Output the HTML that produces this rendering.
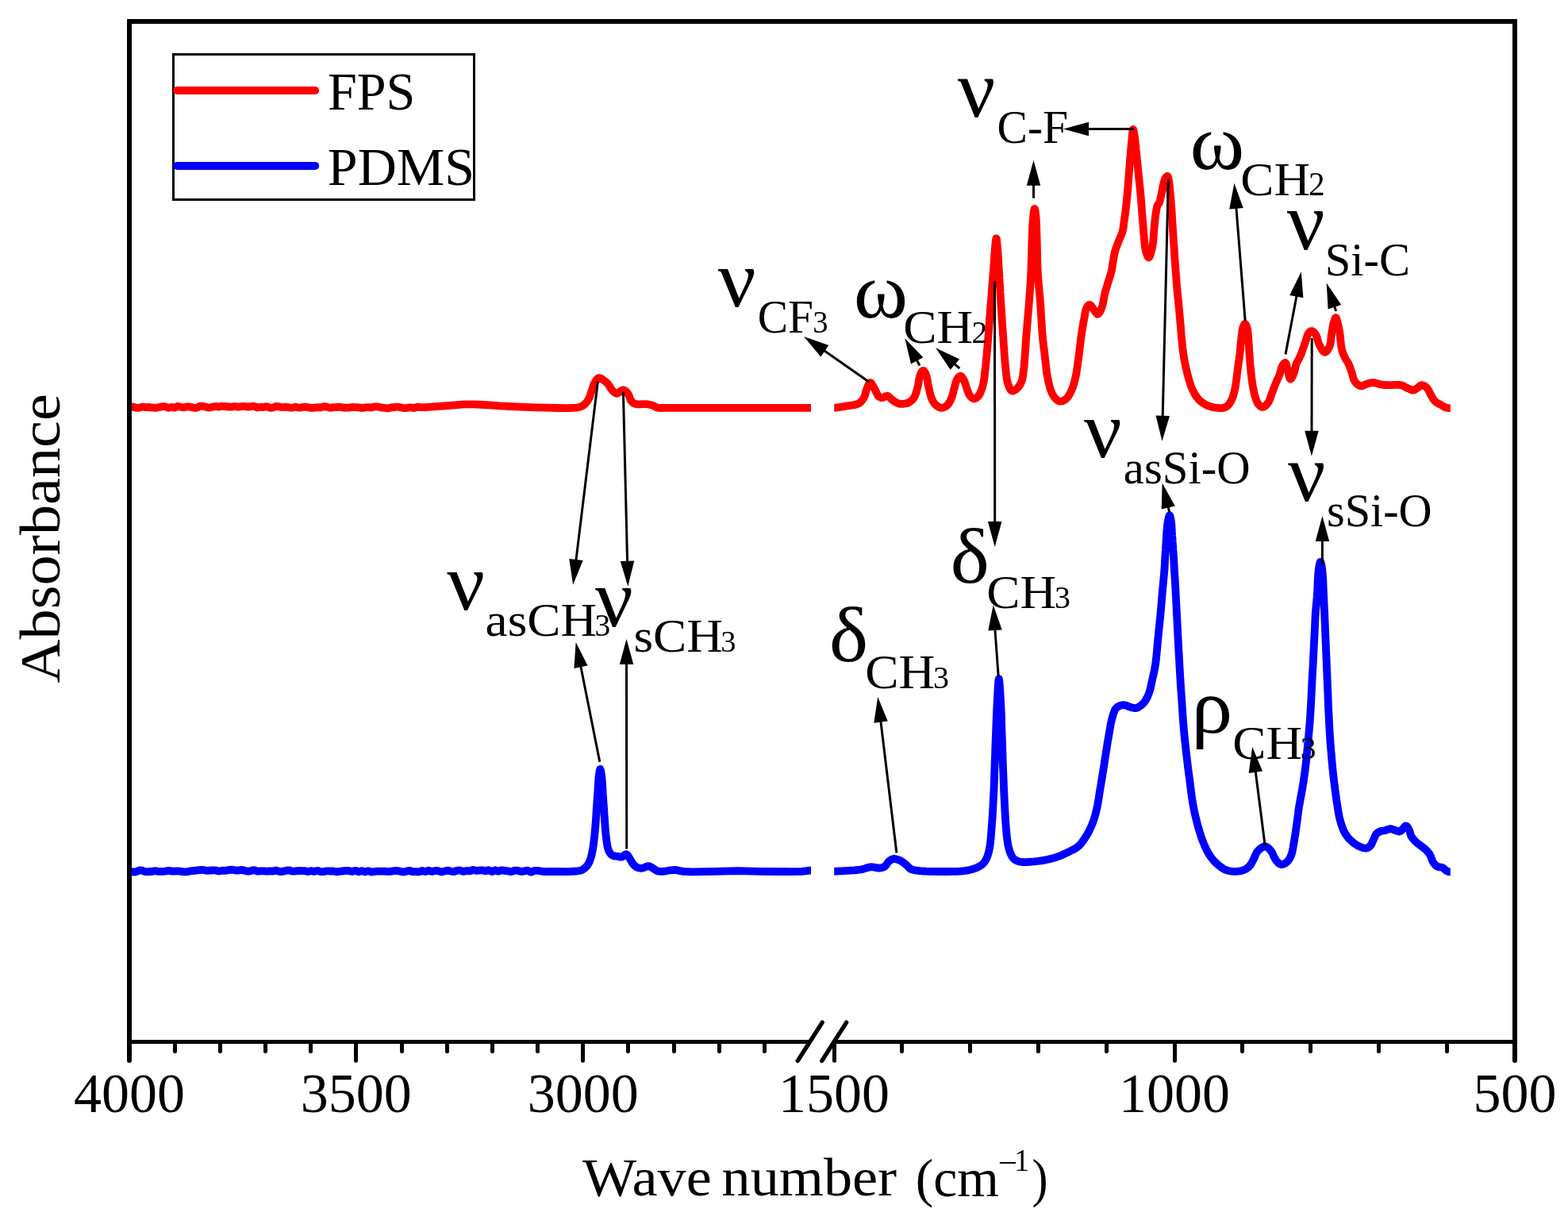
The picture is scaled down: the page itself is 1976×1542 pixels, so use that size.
<!DOCTYPE html>
<html lang="en"><head><meta charset="utf-8"><title>FTIR spectra of FPS and PDMS</title>
<style>html,body{margin:0;padding:0;background:#fff}body{width:1976px;height:1542px;overflow:hidden}svg{display:block}text{font-family:"Liberation Serif", "DejaVu Serif", serif;fill:#000}</style></head><body>
<svg width="1976" height="1542" viewBox="0 0 1976 1542">
<rect width="1976" height="1542" fill="#fff"/>
<defs><clipPath id="cl"><rect x="160" y="0" width="862" height="1542"/></clipPath><clipPath id="cr"><rect x="1051.2" y="0" width="776.6" height="1542"/></clipPath></defs>
<g fill="none" stroke-width="9.8" stroke-linejoin="round" stroke-linecap="butt">
<path clip-path="url(#cl)" stroke="#f00" d="M156.1,514.2 L158.5,513.8 L160.8,513.4 L163.0,513.0 L164.5,512.7 L165.8,512.4 L167.1,512.3 L168.5,512.7 L169.8,513.3 L171.2,513.7 L172.6,513.8 L174.0,513.8 L175.3,513.6 L176.7,513.3 L178.1,512.9 L179.4,512.6 L180.8,512.7 L182.2,512.9 L183.6,513.1 L184.9,513.1 L186.3,513.0 L187.7,513.0 L189.0,513.1 L190.4,513.3 L191.8,513.5 L193.1,513.6 L194.5,513.7 L195.9,513.8 L197.3,513.6 L198.6,513.4 L200.0,513.2 L201.3,512.9 L202.7,512.6 L204.0,512.3 L205.3,512.2 L206.7,512.1 L208.0,512.2 L209.3,512.7 L210.7,513.3 L212.0,513.8 L213.3,513.6 L214.7,513.2 L216.0,512.9 L217.3,513.1 L218.7,513.4 L220.0,513.5 L221.3,513.1 L222.7,512.4 L224.0,512.0 L225.3,512.1 L226.7,512.5 L228.0,512.8 L229.3,513.1 L230.7,513.3 L232.0,513.3 L233.3,513.0 L234.7,512.6 L236.0,512.3 L237.3,512.3 L238.7,512.5 L240.0,512.8 L241.3,513.1 L242.7,513.4 L244.0,513.7 L245.3,513.8 L246.7,513.8 L248.0,513.6 L249.3,513.1 L250.7,512.3 L252.0,511.8 L253.3,511.7 L254.7,511.7 L256.0,511.8 L257.3,512.1 L258.7,512.5 L260.0,512.8 L261.3,513.2 L262.7,513.5 L264.0,513.6 L265.3,513.3 L266.7,512.9 L268.0,512.5 L269.3,512.3 L270.7,512.2 L272.0,512.1 L273.3,512.2 L274.7,512.5 L276.0,512.5 L277.3,512.3 L278.7,511.9 L280.0,511.7 L281.3,511.8 L282.7,511.9 L284.0,512.1 L285.3,512.2 L286.7,512.4 L288.0,512.5 L289.3,512.6 L290.7,512.6 L292.0,512.6 L293.3,512.4 L294.7,512.2 L296.0,512.1 L297.3,512.2 L298.7,512.5 L300.0,512.6 L301.3,512.5 L302.7,512.3 L304.0,512.1 L305.3,512.0 L306.7,512.0 L308.0,512.1 L309.3,512.2 L310.7,512.4 L312.0,512.6 L313.3,512.5 L314.7,512.4 L316.0,512.2 L317.3,512.0 L318.7,511.7 L320.0,511.7 L321.3,512.2 L322.7,512.9 L324.0,513.4 L325.3,513.3 L326.7,513.0 L328.0,512.8 L329.3,512.9 L330.7,513.0 L332.0,513.0 L333.3,512.7 L334.7,512.3 L336.0,512.1 L337.3,512.5 L338.7,513.2 L340.0,513.7 L341.3,513.8 L342.7,513.7 L344.0,513.5 L345.3,513.0 L346.7,512.4 L348.0,512.0 L349.3,512.0 L350.7,512.2 L352.0,512.4 L353.3,512.7 L354.7,513.0 L356.0,513.2 L357.3,513.1 L358.7,512.9 L360.0,512.8 L361.3,512.9 L362.7,513.1 L364.0,513.2 L365.3,513.5 L366.7,513.7 L368.0,513.7 L369.3,513.4 L370.7,513.0 L372.0,512.7 L373.3,512.9 L374.7,513.3 L376.0,513.6 L377.3,513.6 L378.7,513.4 L380.0,513.3 L381.3,513.0 L382.7,512.7 L384.0,512.6 L385.3,512.7 L386.7,512.9 L388.0,513.2 L389.3,513.4 L390.7,513.6 L392.0,513.8 L393.3,513.8 L394.7,513.8 L396.0,513.7 L397.3,513.5 L398.7,513.3 L400.0,513.1 L401.3,513.1 L402.7,513.3 L404.0,513.3 L405.3,512.9 L406.7,512.5 L408.0,512.2 L409.3,512.2 L410.7,512.4 L412.0,512.6 L413.3,513.0 L414.7,513.5 L416.0,513.8 L417.3,513.7 L418.7,513.4 L420.0,513.2 L421.3,513.1 L422.7,513.1 L424.0,513.0 L425.3,512.9 L426.7,512.6 L428.0,512.6 L429.3,512.8 L430.7,513.1 L432.0,513.3 L433.3,513.5 L434.7,513.6 L436.0,513.7 L437.3,513.7 L438.7,513.7 L440.0,513.6 L441.3,513.4 L442.7,513.2 L444.0,513.0 L445.3,513.0 L446.7,513.1 L448.0,513.2 L449.3,513.2 L450.7,513.2 L452.0,513.3 L453.3,513.5 L454.7,513.8 L456.0,513.9 L457.3,513.8 L458.7,513.6 L460.0,513.4 L461.3,513.3 L462.7,513.2 L464.0,513.1 L465.3,513.2 L466.7,513.3 L468.0,513.3 L469.3,513.1 L470.7,512.7 L472.0,512.4 L473.3,512.3 L474.7,512.4 L476.0,512.5 L477.3,512.7 L478.7,513.1 L480.0,513.4 L481.4,513.6 L482.8,513.7 L484.2,513.8 L485.6,514.0 L486.9,514.2 L488.3,514.3 L489.7,514.2 L491.1,513.8 L492.5,513.5 L493.9,513.4 L495.3,513.2 L496.7,513.1 L498.1,512.9 L499.4,512.7 L500.8,512.7 L502.2,512.8 L503.6,513.0 L505.0,513.3 L506.4,513.6 L507.8,514.0 L509.2,514.2 L510.6,514.2 L511.9,514.0 L513.3,513.8 L514.7,513.6 L516.1,513.4 L517.5,513.3 L518.9,513.5 L520.3,513.8 L521.7,514.0 L523.1,513.6 L524.4,513.0 L525.8,512.7 L527.1,512.7 L528.4,513.0 L530.0,513.2 L535.6,513.1 L542.8,512.7 L550.0,512.2 L556.7,511.7 L563.4,511.1 L570.0,510.6 L576.0,510.1 L581.9,509.7 L588.0,509.4 L595.2,509.4 L602.7,509.7 L610.0,510.0 L616.7,510.4 L623.4,510.9 L630.0,511.4 L636.4,511.7 L642.8,512.0 L650.0,512.3 L662.4,512.8 L676.3,513.3 L690.0,513.6 L703.4,514.0 L716.6,514.2 L726.8,513.6 L730.0,513.0 L732.4,512.1 L734.7,510.9 L737.2,508.9 L739.4,506.4 L741.3,503.7 L742.9,500.4 L744.1,496.8 L745.3,493.2 L746.5,489.6 L747.7,485.9 L749.2,482.6 L750.8,479.9 L752.5,477.4 L754.5,476.1 L756.6,476.4 L758.9,477.8 L761.1,479.3 L762.9,480.7 L764.7,482.2 L766.3,483.9 L768.1,486.5 L769.7,489.3 L771.6,491.8 L773.4,493.6 L775.4,495.1 L777.5,495.8 L780.1,494.6 L782.8,492.3 L785.4,491.2 L787.5,492.0 L789.5,493.7 L791.3,495.8 L792.8,498.7 L793.9,502.1 L795.3,505.0 L796.8,506.6 L798.4,507.9 L800.5,508.9 L804.9,509.4 L810.2,509.2 L815.0,509.2 L817.9,509.6 L820.5,510.2 L822.9,510.9 L824.7,511.8 L826.3,512.8 L828.2,513.6 L831.4,514.0 L835.2,513.9 L840.0,513.8 L856.6,513.8 L878.3,513.8 L900.0,513.8 L920.0,513.8 L939.9,513.8 L960.0,513.8 L985.1,513.8 L1010.3,513.8 L1022.0,513.8 L1022.0,513.8 L1022.0,513.8 L1022.0,513.8"/>
<path clip-path="url(#cr)" stroke="#f00" d="M1044.3,515.0 L1045.6,514.7 L1046.9,514.6 L1048.2,514.4 L1049.6,514.1 L1051.2,513.9 L1053.8,513.5 L1056.8,513.1 L1060.0,512.6 L1063.2,512.1 L1066.3,511.6 L1069.6,511.1 L1073.0,510.7 L1076.4,510.1 L1079.5,509.4 L1082.1,508.3 L1083.8,507.2 L1085.2,505.9 L1086.5,504.4 L1087.6,502.8 L1088.7,501.1 L1089.7,498.9 L1090.5,496.5 L1091.1,493.9 L1091.8,491.4 L1092.6,489.2 L1093.3,487.4 L1094.1,485.5 L1094.9,483.8 L1095.7,482.5 L1096.6,482.0 L1097.6,482.5 L1098.6,483.7 L1099.7,485.5 L1100.8,487.4 L1101.8,489.2 L1102.9,491.2 L1103.9,493.4 L1104.9,495.6 L1105.9,497.6 L1107.1,499.1 L1108.0,499.8 L1108.8,500.3 L1109.8,500.7 L1110.7,501.0 L1111.7,501.1 L1113.0,500.8 L1114.3,500.2 L1115.7,499.4 L1117.0,498.8 L1118.3,498.7 L1119.5,499.2 L1120.7,500.2 L1121.8,501.4 L1123.0,502.6 L1124.2,503.7 L1125.7,504.7 L1127.3,505.8 L1128.9,506.8 L1130.6,507.7 L1132.1,508.3 L1133.2,508.6 L1134.2,508.8 L1135.2,508.9 L1136.3,508.9 L1137.4,508.9 L1138.9,508.8 L1140.5,508.5 L1142.2,508.2 L1143.8,507.7 L1145.3,507.0 L1146.8,506.1 L1148.1,505.1 L1149.5,503.9 L1150.7,502.6 L1151.8,501.1 L1153.0,498.9 L1154.0,496.4 L1154.9,493.6 L1155.6,490.7 L1156.4,487.9 L1157.1,484.7 L1157.7,481.3 L1158.2,477.8 L1158.9,474.7 L1159.7,472.1 L1160.4,470.6 L1161.1,469.2 L1161.9,468.0 L1162.6,467.1 L1163.4,466.8 L1164.1,467.1 L1164.9,468.0 L1165.6,469.2 L1166.4,470.6 L1167.0,472.1 L1167.8,474.7 L1168.5,477.8 L1169.1,481.2 L1169.6,484.6 L1170.3,487.9 L1171.0,490.9 L1171.7,494.0 L1172.4,497.0 L1173.2,499.8 L1174.2,502.4 L1175.1,504.3 L1176.1,506.0 L1177.1,507.6 L1178.2,509.0 L1179.5,510.3 L1180.8,511.4 L1182.2,512.3 L1183.7,513.1 L1185.2,513.7 L1186.7,513.9 L1188.2,513.7 L1189.7,513.2 L1191.2,512.4 L1192.6,511.4 L1193.9,510.3 L1195.2,508.9 L1196.3,507.1 L1197.4,505.2 L1198.3,503.2 L1199.2,501.1 L1200.2,498.4 L1201.0,495.4 L1201.7,492.3 L1202.4,489.3 L1203.2,486.6 L1203.8,484.5 L1204.4,482.5 L1204.9,480.6 L1205.6,478.9 L1206.4,477.4 L1207.1,476.4 L1207.9,475.4 L1208.7,474.5 L1209.6,473.9 L1210.4,473.7 L1211.2,474.0 L1212.0,474.7 L1212.8,475.7 L1213.6,476.8 L1214.3,478.0 L1215.2,479.9 L1216.0,482.1 L1216.8,484.5 L1217.5,486.9 L1218.3,489.2 L1219.0,491.2 L1219.7,493.2 L1220.4,495.1 L1221.2,496.9 L1222.2,498.4 L1223.1,499.5 L1224.2,500.6 L1225.3,501.5 L1226.4,502.1 L1227.5,502.4 L1228.7,502.2 L1229.9,501.6 L1231.1,500.7 L1232.3,499.6 L1233.4,498.4 L1234.7,496.4 L1235.9,493.9 L1236.9,491.2 L1237.9,488.3 L1238.7,485.3 L1239.5,481.6 L1240.2,477.7 L1240.7,473.6 L1241.1,469.5 L1241.6,465.5 L1242.1,461.6 L1242.5,457.8 L1242.8,453.9 L1243.2,449.9 L1243.6,445.8 L1244.0,440.8 L1244.5,435.6 L1244.9,430.3 L1245.4,424.9 L1245.8,419.5 L1246.2,413.7 L1246.7,407.7 L1247.1,401.7 L1247.6,395.8 L1248.0,390.0 L1248.4,384.9 L1248.8,379.9 L1249.2,375.0 L1249.6,370.1 L1250.0,365.0 L1250.4,359.4 L1250.9,353.7 L1251.3,347.9 L1251.8,342.2 L1252.2,336.6 L1252.6,331.4 L1252.9,326.2 L1253.3,321.1 L1253.6,316.3 L1254.0,312.0 L1254.3,309.0 L1254.6,305.9 L1254.9,303.1 L1255.2,301.1 L1255.5,300.3 L1255.8,301.1 L1256.1,303.1 L1256.4,305.9 L1256.7,309.0 L1257.0,312.0 L1257.4,316.3 L1257.7,321.0 L1258.0,326.0 L1258.3,331.1 L1258.6,336.0 L1258.9,340.8 L1259.2,345.6 L1259.4,350.5 L1259.7,355.2 L1260.0,360.0 L1260.3,364.5 L1260.5,369.0 L1260.8,373.4 L1261.1,378.0 L1261.4,382.6 L1261.7,387.9 L1262.1,393.4 L1262.5,399.0 L1262.8,404.5 L1263.2,410.0 L1263.6,415.2 L1263.9,420.5 L1264.3,425.6 L1264.6,430.8 L1265.0,436.0 L1265.4,441.2 L1265.7,446.4 L1266.1,451.5 L1266.5,456.6 L1267.0,461.6 L1267.5,466.3 L1267.9,471.0 L1268.5,475.6 L1269.2,479.8 L1270.2,483.5 L1271.0,485.8 L1271.9,488.1 L1272.9,490.1 L1274.1,491.7 L1275.3,492.5 L1276.5,492.5 L1277.8,492.1 L1279.2,491.2 L1280.6,490.2 L1281.8,489.2 L1283.1,487.9 L1284.2,486.5 L1285.3,484.8 L1286.3,483.1 L1287.1,481.3 L1287.8,479.3 L1288.4,477.4 L1288.8,475.2 L1289.2,472.8 L1289.6,470.0 L1290.5,462.5 L1291.3,453.0 L1292.0,442.5 L1292.7,431.9 L1293.4,422.1 L1294.1,414.0 L1294.8,406.0 L1295.4,398.2 L1296.1,390.4 L1296.7,382.6 L1297.3,374.7 L1297.9,366.9 L1298.4,359.1 L1298.9,351.2 L1299.3,343.2 L1299.6,334.5 L1299.9,325.6 L1300.1,316.7 L1300.3,308.1 L1300.6,300.0 L1300.9,293.8 L1301.1,287.6 L1301.4,281.8 L1301.8,276.5 L1302.2,272.0 L1302.5,269.5 L1302.8,267.1 L1303.1,264.9 L1303.5,263.4 L1303.8,262.8 L1304.1,263.4 L1304.5,264.9 L1304.8,267.1 L1305.1,269.5 L1305.4,272.0 L1305.8,276.5 L1306.0,281.8 L1306.2,287.6 L1306.4,293.8 L1306.6,300.0 L1306.8,308.1 L1307.0,316.7 L1307.2,325.6 L1307.4,334.5 L1307.8,343.2 L1308.3,351.2 L1309.0,359.1 L1309.7,366.9 L1310.5,374.7 L1311.1,382.6 L1311.6,390.6 L1312.1,398.8 L1312.6,406.9 L1313.1,414.7 L1313.7,422.1 L1314.2,427.7 L1314.8,433.0 L1315.4,438.1 L1316.1,443.2 L1316.7,448.4 L1317.3,453.7 L1317.9,459.1 L1318.5,464.5 L1319.1,469.7 L1320.0,474.7 L1320.9,479.0 L1321.8,483.3 L1322.9,487.4 L1324.0,491.2 L1325.3,494.5 L1326.2,496.4 L1327.2,498.2 L1328.3,499.8 L1329.3,501.2 L1330.5,502.4 L1331.5,503.3 L1332.5,504.2 L1333.5,504.9 L1334.6,505.4 L1335.8,505.7 L1337.3,505.6 L1338.9,505.2 L1340.6,504.4 L1342.2,503.5 L1343.7,502.4 L1345.3,500.8 L1346.7,498.8 L1348.0,496.6 L1349.2,494.3 L1350.3,491.8 L1351.6,488.8 L1352.7,485.5 L1353.7,482.1 L1354.6,478.5 L1355.5,474.7 L1356.5,469.8 L1357.3,464.6 L1358.1,459.2 L1358.8,453.8 L1359.5,448.4 L1360.2,443.1 L1360.8,437.7 L1361.5,432.3 L1362.1,427.1 L1362.8,422.1 L1363.4,417.9 L1364.1,413.9 L1364.7,409.9 L1365.4,406.1 L1366.1,402.4 L1366.7,399.2 L1367.2,396.0 L1367.7,392.9 L1368.4,390.1 L1369.3,387.9 L1370.0,386.7 L1370.8,385.6 L1371.6,384.7 L1372.5,384.1 L1373.3,383.9 L1374.2,384.3 L1375.1,385.2 L1376.0,386.5 L1377.0,387.9 L1377.9,389.2 L1378.9,390.7 L1380.0,392.4 L1381.1,394.1 L1382.2,395.3 L1383.2,395.8 L1384.3,395.3 L1385.4,393.9 L1386.5,392.1 L1387.5,390.0 L1388.4,387.9 L1389.4,384.7 L1390.3,381.0 L1390.9,377.0 L1391.6,373.1 L1392.4,369.5 L1393.1,366.7 L1393.9,364.0 L1394.7,361.5 L1395.5,358.9 L1396.3,356.3 L1397.1,353.7 L1397.9,351.3 L1398.7,348.8 L1399.5,346.1 L1400.3,343.2 L1401.3,338.5 L1402.1,333.2 L1403.0,327.6 L1403.9,322.3 L1404.9,317.6 L1405.7,314.7 L1406.6,312.0 L1407.6,309.5 L1408.5,307.0 L1409.5,304.5 L1410.6,301.9 L1411.7,299.2 L1412.8,296.6 L1413.9,294.0 L1414.7,291.3 L1415.3,288.7 L1415.7,286.2 L1416.0,283.7 L1416.3,281.0 L1416.7,278.2 L1417.2,274.5 L1417.8,270.7 L1418.3,266.7 L1418.8,262.6 L1419.3,258.4 L1419.8,253.4 L1420.3,248.2 L1420.8,242.8 L1421.3,237.4 L1421.7,232.1 L1422.1,226.8 L1422.5,221.6 L1422.9,216.3 L1423.3,211.1 L1423.7,205.8 L1424.1,200.4 L1424.6,195.0 L1425.1,189.6 L1425.5,184.4 L1426.0,179.5 L1426.4,175.4 L1426.7,171.0 L1427.1,166.9 L1427.5,164.0 L1427.9,162.8 L1428.3,163.4 L1428.6,165.0 L1429.0,167.2 L1429.4,169.6 L1429.8,172.0 L1430.3,175.5 L1430.8,179.5 L1431.2,183.8 L1431.6,188.2 L1432.1,192.6 L1432.6,197.7 L1433.1,202.9 L1433.7,208.2 L1434.2,213.6 L1434.7,218.9 L1435.2,224.2 L1435.8,229.5 L1436.4,234.7 L1436.9,240.0 L1437.4,245.3 L1437.9,250.6 L1438.3,255.8 L1438.7,261.1 L1439.1,266.3 L1439.5,271.6 L1439.9,277.0 L1440.4,282.4 L1440.8,287.8 L1441.2,293.0 L1441.7,297.9 L1442.0,301.6 L1442.3,305.3 L1442.6,308.7 L1443.1,312.0 L1443.7,315.0 L1444.3,317.4 L1445.1,320.0 L1445.9,322.2 L1446.8,323.9 L1447.6,324.5 L1448.6,323.6 L1449.6,321.2 L1450.6,317.9 L1451.5,314.3 L1452.2,311.0 L1452.8,307.3 L1453.3,303.4 L1453.6,299.4 L1453.9,295.3 L1454.2,291.3 L1454.6,287.3 L1454.9,283.2 L1455.3,279.2 L1455.7,275.3 L1456.2,271.6 L1456.6,268.6 L1457.1,265.6 L1457.6,262.8 L1458.1,260.3 L1458.8,258.4 L1459.2,257.8 L1459.6,257.3 L1460.0,256.9 L1460.4,256.4 L1460.8,255.8 L1461.4,254.2 L1461.9,252.2 L1462.4,249.9 L1462.9,247.6 L1463.4,245.3 L1463.9,242.7 L1464.5,240.0 L1465.0,237.2 L1465.5,234.5 L1466.1,232.1 L1466.6,230.3 L1467.0,228.5 L1467.5,226.9 L1468.1,225.4 L1468.7,224.2 L1469.2,223.5 L1469.7,222.9 L1470.3,222.4 L1470.8,222.0 L1471.3,222.0 L1471.8,222.6 L1472.3,223.8 L1472.6,225.5 L1472.9,227.5 L1473.2,229.5 L1473.8,233.6 L1474.3,238.6 L1474.8,244.1 L1475.3,249.9 L1475.8,255.8 L1476.4,263.2 L1476.9,271.0 L1477.4,279.1 L1477.9,287.3 L1478.4,295.3 L1478.9,303.2 L1479.5,311.2 L1480.0,319.2 L1480.5,327.0 L1481.1,334.7 L1481.6,341.7 L1482.2,348.8 L1482.7,355.7 L1483.2,362.1 L1483.7,367.6 L1484.0,370.4 L1484.2,372.8 L1484.5,375.0 L1484.7,377.3 L1485.0,380.0 L1485.4,384.5 L1485.9,389.6 L1486.4,394.9 L1486.9,400.5 L1487.4,406.3 L1488.1,413.8 L1488.7,421.9 L1489.5,430.2 L1490.3,438.3 L1491.3,445.8 L1492.2,451.5 L1493.2,456.9 L1494.2,462.1 L1495.4,467.2 L1496.6,472.1 L1497.8,476.3 L1499.0,480.5 L1500.2,484.5 L1501.6,488.3 L1503.2,491.8 L1504.6,494.5 L1506.0,497.1 L1507.6,499.4 L1509.3,501.7 L1511.1,503.7 L1513.0,505.5 L1515.0,507.1 L1517.2,508.5 L1519.4,509.8 L1521.6,510.9 L1523.6,511.7 L1525.7,512.4 L1527.9,512.9 L1530.0,513.3 L1532.1,513.6 L1534.3,513.8 L1536.5,514.0 L1538.7,514.1 L1540.8,514.0 L1542.6,513.6 L1543.8,513.2 L1544.9,512.6 L1546.0,512.0 L1546.9,511.2 L1547.9,510.3 L1549.1,508.9 L1550.2,507.2 L1551.3,505.3 L1552.3,503.2 L1553.2,501.1 L1554.2,498.3 L1555.0,495.2 L1555.8,492.0 L1556.5,488.7 L1557.1,485.3 L1557.7,481.5 L1558.3,477.6 L1558.7,473.5 L1559.2,469.5 L1559.7,465.5 L1560.2,461.6 L1560.8,457.6 L1561.4,453.7 L1561.9,449.7 L1562.4,445.8 L1562.8,441.8 L1563.2,437.7 L1563.5,433.7 L1563.9,429.8 L1564.3,426.1 L1564.6,423.2 L1565.0,420.3 L1565.3,417.6 L1565.7,415.1 L1566.3,412.9 L1566.8,411.6 L1567.3,410.3 L1567.8,409.1 L1568.4,408.3 L1568.9,408.0 L1569.5,408.3 L1570.0,409.1 L1570.6,410.2 L1571.1,411.5 L1571.6,412.9 L1572.3,415.9 L1572.7,419.7 L1573.0,423.9 L1573.3,428.3 L1573.6,432.6 L1574.0,437.6 L1574.3,442.9 L1574.7,448.3 L1575.1,453.7 L1575.5,458.9 L1576.0,463.8 L1576.4,468.6 L1577.0,473.4 L1577.5,478.1 L1578.2,482.6 L1578.8,486.6 L1579.5,490.5 L1580.3,494.3 L1581.1,497.9 L1582.1,501.1 L1582.9,503.3 L1583.7,505.4 L1584.6,507.3 L1585.6,508.9 L1586.7,510.3 L1587.5,511.1 L1588.4,511.9 L1589.4,512.5 L1590.3,512.8 L1591.3,512.9 L1592.6,512.5 L1594.0,511.7 L1595.4,510.5 L1596.7,509.1 L1597.9,507.6 L1599.2,505.4 L1600.3,502.9 L1601.3,500.1 L1602.2,497.2 L1603.2,494.5 L1604.3,491.8 L1605.3,489.1 L1606.4,486.4 L1607.4,483.8 L1608.4,481.3 L1609.2,479.4 L1610.1,477.5 L1610.9,475.8 L1611.7,474.0 L1612.4,472.1 L1613.1,470.0 L1613.7,467.7 L1614.3,465.5 L1614.9,463.4 L1615.7,461.6 L1616.4,460.3 L1617.2,459.1 L1618.1,458.0 L1618.9,457.2 L1619.6,457.0 L1620.4,457.8 L1621.1,459.6 L1621.7,462.0 L1622.3,464.5 L1622.9,466.8 L1623.5,469.3 L1624.1,472.1 L1624.8,474.7 L1625.4,476.8 L1626.2,477.6 L1627.1,477.1 L1628.0,475.7 L1629.0,473.7 L1630.0,471.5 L1630.8,469.5 L1631.4,467.5 L1631.9,465.3 L1632.3,463.1 L1632.8,460.9 L1633.4,458.9 L1634.1,457.3 L1634.9,455.7 L1635.7,454.2 L1636.6,452.7 L1637.4,451.1 L1638.2,449.3 L1639.0,447.5 L1639.8,445.7 L1640.5,443.8 L1641.3,441.8 L1642.1,439.5 L1642.9,437.2 L1643.7,434.7 L1644.5,432.3 L1645.3,430.0 L1646.0,427.7 L1646.7,425.4 L1647.4,423.1 L1648.2,421.1 L1649.2,419.5 L1649.9,418.7 L1650.7,418.0 L1651.5,417.4 L1652.4,417.1 L1653.2,417.0 L1654.3,417.4 L1655.4,418.2 L1656.4,419.4 L1657.5,420.7 L1658.4,422.1 L1659.4,424.1 L1660.1,426.5 L1660.7,429.0 L1661.4,431.6 L1662.4,433.9 L1663.6,436.3 L1665.1,438.9 L1666.6,441.3 L1668.1,443.1 L1669.6,443.8 L1670.9,443.4 L1672.1,442.2 L1673.4,440.5 L1674.5,438.6 L1675.5,436.6 L1676.4,433.7 L1677.0,430.3 L1677.4,426.6 L1677.7,422.9 L1678.2,419.5 L1678.7,416.7 L1679.2,413.8 L1679.7,411.1 L1680.2,408.6 L1680.8,406.3 L1681.3,404.7 L1681.8,403.0 L1682.3,401.5 L1682.9,400.5 L1683.4,400.1 L1683.9,400.7 L1684.5,402.1 L1685.0,404.0 L1685.5,406.1 L1686.0,408.0 L1686.5,410.0 L1687.0,412.0 L1687.4,414.2 L1687.9,416.5 L1688.3,418.9 L1688.8,422.8 L1689.2,427.2 L1689.7,431.8 L1690.2,436.2 L1690.9,440.0 L1691.6,442.4 L1692.3,444.6 L1693.1,446.6 L1694.0,448.6 L1694.9,450.5 L1695.8,452.2 L1696.7,453.7 L1697.7,455.2 L1698.6,456.7 L1699.5,458.4 L1700.4,460.4 L1701.2,462.5 L1701.9,464.6 L1702.7,466.8 L1703.4,468.9 L1704.1,471.1 L1704.6,473.3 L1705.2,475.6 L1705.9,477.7 L1706.7,479.5 L1707.5,480.8 L1708.4,482.0 L1709.3,483.0 L1710.3,483.9 L1711.3,484.7 L1712.1,485.2 L1712.8,485.6 L1713.6,486.0 L1714.4,486.2 L1715.3,486.3 L1716.7,486.1 L1718.3,485.5 L1719.9,484.7 L1721.6,484.0 L1723.2,483.4 L1724.8,483.0 L1726.3,482.6 L1727.9,482.3 L1729.4,482.1 L1731.1,482.1 L1733.1,482.4 L1735.2,482.9 L1737.3,483.6 L1739.5,484.3 L1741.6,484.7 L1743.7,484.9 L1745.7,485.0 L1747.8,485.1 L1749.9,485.1 L1752.1,485.1 L1754.7,485.1 L1757.5,484.9 L1760.2,484.8 L1762.9,484.8 L1765.3,485.1 L1767.0,485.6 L1768.6,486.3 L1770.2,487.2 L1771.7,488.0 L1773.2,488.7 L1774.8,489.4 L1776.4,490.2 L1778.1,491.0 L1779.6,491.5 L1781.1,491.6 L1782.2,491.3 L1783.3,490.8 L1784.3,490.1 L1785.3,489.4 L1786.3,488.7 L1787.4,487.9 L1788.4,487.0 L1789.4,486.1 L1790.5,485.4 L1791.6,485.1 L1792.9,485.3 L1794.3,485.8 L1795.7,486.6 L1797.0,487.6 L1798.2,488.7 L1799.4,490.2 L1800.5,492.0 L1801.4,494.0 L1802.4,496.0 L1803.4,497.9 L1804.4,499.6 L1805.4,501.3 L1806.4,502.9 L1807.5,504.5 L1808.7,505.8 L1809.9,506.8 L1811.2,507.6 L1812.6,508.3 L1814.0,509.0 L1815.3,509.7 L1816.6,510.5 L1817.8,511.2 L1819.1,512.0 L1820.3,512.7 L1821.5,513.2 L1822.4,513.5 L1823.2,513.7 L1824.1,513.9 L1825.0,514.0 L1826.0,514.1 L1828.0,514.2 L1830.6,514.3 L1833.2,514.2 L1835.1,514.2 L1836.0,514.2 L1836.0,514.2 L1836.0,514.2 L1836.0,514.2 L1836.0,514.2 L1836.0,514.2"/>
<path clip-path="url(#cl)" stroke="#00f" d="M156.2,1096.0 L158.5,1096.5 L160.9,1097.0 L163.0,1097.5 L164.4,1097.9 L165.7,1098.2 L167.1,1098.4 L168.4,1098.5 L169.8,1098.6 L171.1,1098.4 L172.5,1097.9 L173.9,1097.2 L175.2,1096.6 L176.6,1096.5 L177.9,1096.5 L179.3,1096.7 L180.6,1097.2 L182.0,1097.8 L183.4,1098.2 L184.7,1098.3 L186.1,1098.1 L187.4,1098.0 L188.8,1098.0 L190.1,1098.0 L191.5,1097.9 L192.9,1097.6 L194.2,1097.3 L195.6,1097.2 L196.9,1097.3 L198.3,1097.6 L199.6,1097.8 L201.0,1097.8 L202.4,1097.8 L203.7,1097.8 L205.1,1097.8 L206.4,1097.8 L207.8,1097.7 L209.1,1097.5 L210.5,1097.1 L211.9,1096.9 L213.2,1097.0 L214.6,1097.2 L215.9,1097.5 L217.3,1097.5 L218.6,1097.6 L220.0,1097.6 L221.3,1097.5 L222.7,1097.4 L224.0,1097.3 L225.3,1097.4 L226.7,1097.7 L228.0,1097.9 L229.3,1098.1 L230.7,1098.2 L232.0,1098.3 L233.3,1098.4 L234.7,1098.3 L236.0,1098.2 L237.3,1097.9 L238.7,1097.6 L240.0,1097.3 L241.3,1097.2 L242.7,1097.1 L244.0,1097.0 L245.3,1096.9 L246.7,1096.7 L248.0,1096.6 L249.3,1096.4 L250.7,1096.2 L252.0,1096.0 L253.3,1095.9 L254.7,1095.9 L256.0,1095.9 L257.3,1096.2 L258.7,1096.5 L260.0,1096.8 L261.3,1096.8 L262.7,1096.8 L264.0,1096.7 L265.3,1096.6 L266.7,1096.5 L268.0,1096.4 L269.3,1096.4 L270.7,1096.4 L272.0,1096.5 L273.3,1096.8 L274.7,1097.3 L276.0,1097.5 L277.3,1097.4 L278.7,1097.0 L280.0,1096.8 L281.3,1096.7 L282.7,1096.8 L284.0,1096.8 L285.3,1096.6 L286.7,1096.4 L288.0,1096.1 L289.3,1095.9 L290.7,1095.8 L292.0,1095.7 L293.3,1095.8 L294.7,1096.1 L296.0,1096.3 L297.3,1096.4 L298.7,1096.6 L300.0,1096.6 L301.3,1096.4 L302.7,1096.1 L304.0,1095.9 L305.3,1096.0 L306.7,1096.3 L308.0,1096.7 L309.3,1097.1 L310.7,1097.5 L312.0,1097.7 L313.3,1097.6 L314.7,1097.3 L316.0,1097.1 L317.3,1096.7 L318.7,1096.3 L320.0,1096.1 L321.3,1096.5 L322.7,1097.1 L324.0,1097.5 L325.3,1097.6 L326.7,1097.5 L328.0,1097.4 L329.3,1097.3 L330.7,1097.3 L332.0,1097.3 L333.3,1097.4 L334.7,1097.6 L336.0,1097.7 L337.3,1097.6 L338.7,1097.5 L340.0,1097.4 L341.3,1097.4 L342.7,1097.5 L344.0,1097.5 L345.3,1097.2 L346.7,1096.8 L348.0,1096.6 L349.3,1096.9 L350.7,1097.5 L352.0,1097.9 L353.3,1098.0 L354.7,1098.0 L356.0,1097.9 L357.3,1097.7 L358.7,1097.3 L360.0,1097.0 L361.3,1096.7 L362.7,1096.4 L364.0,1096.3 L365.3,1096.7 L366.7,1097.2 L368.0,1097.6 L369.3,1097.7 L370.7,1097.6 L372.0,1097.5 L373.3,1097.4 L374.7,1097.2 L376.0,1097.0 L377.3,1097.0 L378.7,1097.1 L380.0,1097.2 L381.3,1097.2 L382.7,1097.1 L384.0,1097.1 L385.3,1097.4 L386.7,1097.8 L388.0,1098.0 L389.3,1097.8 L390.7,1097.4 L392.0,1097.2 L393.3,1097.4 L394.7,1097.7 L396.0,1097.9 L397.3,1097.6 L398.7,1097.2 L400.0,1097.0 L401.3,1097.2 L402.7,1097.7 L404.0,1098.1 L405.3,1098.2 L406.7,1098.2 L408.0,1098.1 L409.3,1097.9 L410.7,1097.5 L412.0,1097.3 L413.3,1097.3 L414.7,1097.4 L416.0,1097.5 L417.3,1097.5 L418.7,1097.4 L420.0,1097.4 L421.3,1097.7 L422.7,1098.0 L424.0,1098.3 L425.3,1098.2 L426.7,1098.1 L428.0,1097.9 L429.3,1097.7 L430.7,1097.6 L432.0,1097.4 L433.3,1097.2 L434.7,1097.0 L436.0,1096.9 L437.3,1096.9 L438.7,1097.0 L440.0,1097.1 L441.3,1097.4 L442.7,1097.7 L444.0,1097.9 L445.3,1097.6 L446.7,1097.1 L448.0,1096.8 L449.3,1097.2 L450.7,1097.9 L452.0,1098.3 L453.3,1098.0 L454.7,1097.4 L456.0,1097.1 L457.3,1097.4 L458.7,1098.0 L460.0,1098.4 L461.3,1098.1 L462.7,1097.5 L464.0,1097.2 L465.3,1097.5 L466.7,1098.1 L468.0,1098.5 L469.3,1098.4 L470.7,1098.2 L472.0,1098.0 L473.3,1097.8 L474.7,1097.7 L476.0,1097.6 L477.3,1097.6 L478.7,1097.6 L480.0,1097.6 L481.3,1097.6 L482.7,1097.6 L484.0,1097.6 L485.3,1097.7 L486.7,1097.8 L488.0,1097.9 L489.3,1097.9 L490.7,1097.9 L492.0,1097.8 L493.3,1097.6 L494.7,1097.4 L496.0,1097.2 L497.3,1097.1 L498.7,1097.0 L500.0,1097.0 L501.3,1097.1 L502.7,1097.4 L504.0,1097.6 L505.3,1097.9 L506.7,1098.3 L508.0,1098.5 L509.3,1098.4 L510.7,1098.1 L512.0,1097.8 L513.3,1097.4 L514.7,1096.9 L516.0,1096.8 L517.3,1097.1 L518.7,1097.8 L520.0,1098.2 L521.3,1098.3 L522.7,1098.1 L524.0,1098.1 L525.3,1098.2 L526.7,1098.4 L528.0,1098.4 L529.3,1098.0 L530.7,1097.3 L532.0,1097.0 L533.3,1097.3 L534.7,1097.8 L536.0,1098.1 L537.3,1097.7 L538.7,1097.1 L540.0,1096.7 L541.3,1097.0 L542.7,1097.6 L544.0,1097.9 L545.3,1097.8 L546.7,1097.4 L548.0,1097.1 L549.3,1097.0 L550.7,1097.0 L552.0,1097.1 L553.3,1097.5 L554.7,1098.0 L556.0,1098.4 L557.3,1098.3 L558.7,1097.9 L560.0,1097.6 L561.3,1097.3 L562.7,1096.9 L564.0,1096.7 L565.3,1096.9 L566.7,1097.2 L568.0,1097.5 L569.3,1097.8 L570.7,1098.0 L572.0,1098.1 L573.3,1097.7 L574.7,1097.2 L576.0,1096.8 L577.3,1096.6 L578.7,1096.5 L580.0,1096.6 L581.3,1097.0 L582.7,1097.6 L584.0,1097.9 L585.3,1097.7 L586.7,1097.2 L588.0,1096.9 L589.3,1097.0 L590.7,1097.3 L592.0,1097.4 L593.3,1097.0 L594.7,1096.3 L596.0,1095.9 L597.3,1096.1 L598.7,1096.5 L600.0,1096.8 L601.3,1096.8 L602.7,1096.7 L604.0,1096.6 L605.3,1096.4 L606.7,1096.3 L608.0,1096.3 L609.3,1096.6 L610.7,1097.1 L612.0,1097.3 L613.3,1097.0 L614.7,1096.4 L616.0,1096.2 L617.3,1096.7 L618.7,1097.6 L620.0,1098.0 L621.3,1097.6 L622.7,1096.7 L624.0,1096.2 L625.3,1096.6 L626.7,1097.3 L628.0,1097.7 L629.3,1097.4 L630.7,1096.7 L632.0,1096.3 L633.3,1096.4 L634.7,1096.6 L636.0,1096.9 L637.3,1097.0 L638.7,1097.2 L640.0,1097.4 L641.4,1097.7 L642.8,1098.0 L644.2,1098.1 L645.6,1097.7 L646.9,1097.2 L648.3,1096.8 L649.7,1096.7 L651.1,1096.7 L652.5,1096.9 L653.9,1097.2 L655.3,1097.7 L656.7,1097.9 L658.1,1097.9 L659.4,1097.6 L660.8,1097.4 L662.2,1097.1 L663.6,1096.8 L665.0,1096.7 L666.4,1097.3 L667.8,1098.2 L669.2,1098.7 L670.5,1098.3 L671.9,1097.6 L673.3,1097.0 L674.7,1096.8 L676.1,1096.8 L677.5,1096.8 L678.9,1097.0 L680.3,1097.3 L681.7,1097.5 L683.1,1097.7 L684.4,1098.0 L685.8,1098.1 L687.1,1098.1 L688.3,1098.0 L690.0,1097.9 L700.6,1098.0 L715.2,1098.1 L726.8,1097.5 L729.9,1097.0 L732.4,1096.4 L734.7,1095.3 L737.1,1093.6 L739.4,1091.3 L741.3,1088.7 L743.2,1084.8 L744.7,1080.3 L745.9,1075.5 L747.0,1070.0 L747.9,1064.3 L748.6,1058.4 L749.3,1051.9 L749.9,1045.3 L750.5,1038.7 L751.0,1032.1 L751.4,1025.5 L751.8,1018.9 L752.3,1012.3 L752.7,1005.8 L753.2,999.2 L753.6,992.4 L754.0,985.6 L754.5,979.5 L755.1,974.9 L755.7,970.7 L756.4,968.9 L757.1,970.7 L757.8,974.9 L758.4,979.5 L758.9,985.6 L759.3,992.4 L759.7,999.2 L760.2,1005.8 L760.6,1012.3 L761.1,1018.9 L761.5,1025.5 L761.9,1032.1 L762.4,1038.7 L762.9,1045.4 L763.5,1052.1 L764.3,1058.4 L765.0,1063.2 L765.8,1067.8 L767.0,1071.6 L768.3,1074.0 L769.8,1076.0 L771.6,1077.5 L773.7,1078.3 L776.0,1078.5 L778.2,1078.8 L780.0,1079.3 L781.7,1079.7 L783.4,1079.7 L785.4,1078.6 L787.4,1076.9 L789.3,1076.2 L791.0,1077.4 L792.5,1079.7 L793.9,1082.1 L795.2,1084.3 L796.5,1086.6 L797.9,1088.7 L799.5,1090.4 L801.3,1091.8 L803.2,1092.9 L805.3,1093.5 L807.5,1093.8 L809.7,1093.7 L812.1,1092.9 L814.6,1091.7 L817.0,1091.1 L819.0,1091.6 L821.0,1092.7 L822.9,1093.9 L824.7,1095.1 L826.4,1096.3 L828.2,1097.2 L830.2,1097.7 L832.3,1097.9 L834.7,1097.9 L839.6,1097.3 L845.2,1096.3 L850.5,1095.9 L853.9,1096.4 L857.1,1097.2 L861.1,1097.9 L872.4,1098.3 L886.5,1098.1 L900.0,1097.9 L910.1,1097.7 L919.8,1097.4 L929.5,1097.2 L939.4,1097.3 L949.3,1097.6 L960.0,1097.8 L977.3,1098.0 L995.9,1098.1 L1010.0,1097.8 L1013.7,1097.5 L1016.6,1097.1 L1019.0,1096.8 L1020.3,1096.7 L1021.5,1096.6 L1022.0,1096.6 L1022.0,1096.6 L1022.0,1096.6 L1022.0,1096.6"/>
<path clip-path="url(#cr)" stroke="#00f" d="M1044.2,1098.2 L1045.6,1098.1 L1046.9,1098.0 L1048.3,1098.0 L1049.7,1097.9 L1051.2,1097.8 L1053.4,1097.7 L1055.8,1097.6 L1058.3,1097.4 L1060.9,1097.3 L1063.7,1097.1 L1067.6,1096.9 L1072.0,1096.6 L1076.4,1096.4 L1080.7,1096.0 L1084.7,1095.5 L1087.6,1094.9 L1090.3,1094.1 L1092.9,1093.2 L1095.4,1092.6 L1097.9,1092.2 L1100.1,1092.3 L1102.3,1092.7 L1104.4,1093.2 L1106.5,1093.5 L1108.4,1093.6 L1109.9,1093.4 L1111.2,1093.2 L1112.6,1092.8 L1113.8,1092.3 L1115.0,1091.6 L1116.2,1090.5 L1117.2,1089.1 L1118.2,1087.6 L1119.2,1086.2 L1120.3,1085.0 L1121.4,1084.2 L1122.5,1083.4 L1123.7,1082.7 L1124.9,1082.3 L1126.2,1082.0 L1127.8,1082.0 L1129.5,1082.4 L1131.3,1082.9 L1133.1,1083.6 L1134.7,1084.3 L1136.1,1085.1 L1137.5,1085.9 L1138.8,1086.9 L1140.0,1087.9 L1141.3,1088.9 L1142.6,1090.1 L1143.9,1091.4 L1145.1,1092.7 L1146.4,1093.9 L1147.9,1094.9 L1149.6,1095.6 L1151.3,1096.0 L1153.2,1096.3 L1155.1,1096.6 L1157.1,1096.8 L1159.5,1097.1 L1161.9,1097.3 L1164.5,1097.5 L1167.3,1097.7 L1170.3,1097.8 L1175.6,1097.9 L1181.8,1098.0 L1188.3,1098.0 L1194.5,1098.0 L1200.0,1097.9 L1203.3,1097.8 L1206.4,1097.8 L1209.2,1097.7 L1212.1,1097.5 L1215.0,1097.2 L1218.2,1096.7 L1221.5,1096.1 L1224.7,1095.3 L1227.8,1094.4 L1230.6,1093.3 L1232.8,1092.2 L1234.9,1091.1 L1236.9,1089.7 L1238.7,1088.2 L1240.3,1086.5 L1241.8,1084.3 L1243.1,1081.8 L1244.2,1079.1 L1245.2,1076.1 L1246.1,1072.9 L1247.2,1067.9 L1248.0,1062.3 L1248.6,1056.3 L1249.1,1050.0 L1249.6,1043.7 L1250.2,1036.3 L1250.7,1028.5 L1251.2,1020.6 L1251.6,1012.7 L1252.0,1004.8 L1252.4,997.0 L1252.7,989.2 L1253.0,981.5 L1253.2,973.7 L1253.5,965.9 L1253.8,958.1 L1254.1,950.3 L1254.3,942.6 L1254.6,934.8 L1254.9,927.0 L1255.2,919.2 L1255.5,911.3 L1255.8,903.4 L1256.1,895.7 L1256.5,888.1 L1256.9,880.2 L1257.4,871.5 L1257.8,863.3 L1258.3,857.3 L1258.8,855.0 L1259.3,857.3 L1259.8,863.3 L1260.4,871.5 L1260.9,880.2 L1261.3,888.1 L1261.7,895.7 L1262.0,903.4 L1262.2,911.3 L1262.4,919.2 L1262.7,927.0 L1263.0,934.8 L1263.2,942.6 L1263.5,950.3 L1263.7,958.1 L1264.0,965.9 L1264.3,973.7 L1264.6,981.5 L1264.9,989.2 L1265.2,997.0 L1265.6,1004.8 L1266.0,1012.7 L1266.4,1020.8 L1266.8,1028.7 L1267.3,1036.5 L1267.9,1043.7 L1268.4,1049.3 L1268.9,1054.7 L1269.6,1059.8 L1270.3,1064.6 L1271.4,1069.0 L1272.3,1072.0 L1273.3,1074.9 L1274.5,1077.5 L1275.8,1079.8 L1277.3,1081.7 L1278.6,1082.9 L1280.1,1083.8 L1281.6,1084.5 L1283.3,1085.1 L1285.1,1085.6 L1287.8,1086.0 L1290.9,1086.1 L1294.1,1086.0 L1297.4,1085.8 L1300.6,1085.6 L1303.7,1085.4 L1306.8,1085.0 L1310.0,1084.6 L1313.1,1084.2 L1316.2,1083.6 L1319.3,1083.0 L1322.5,1082.3 L1325.6,1081.5 L1328.7,1080.7 L1331.8,1079.7 L1335.0,1078.5 L1338.2,1077.2 L1341.3,1075.8 L1344.4,1074.4 L1347.3,1072.9 L1349.8,1071.7 L1352.3,1070.5 L1354.6,1069.2 L1356.9,1067.8 L1359.0,1066.1 L1361.2,1064.0 L1363.2,1061.6 L1365.1,1059.0 L1367.0,1056.3 L1368.7,1053.5 L1370.5,1050.6 L1372.1,1047.6 L1373.7,1044.4 L1375.1,1041.2 L1376.5,1037.9 L1377.9,1034.2 L1379.1,1030.4 L1380.3,1026.5 L1381.3,1022.5 L1382.3,1018.4 L1383.2,1013.9 L1384.0,1009.3 L1384.8,1004.5 L1385.5,999.8 L1386.2,995.1 L1387.0,990.5 L1387.8,985.8 L1388.6,981.2 L1389.3,976.5 L1390.1,971.8 L1390.9,966.8 L1391.7,961.7 L1392.4,956.6 L1393.2,951.5 L1394.0,946.5 L1394.8,941.7 L1395.5,937.0 L1396.3,932.3 L1397.1,927.6 L1397.9,923.1 L1398.6,919.0 L1399.3,914.9 L1400.0,911.0 L1400.9,907.2 L1401.8,903.7 L1402.6,901.0 L1403.4,898.4 L1404.3,896.0 L1405.3,893.8 L1406.7,892.0 L1408.2,890.7 L1409.8,889.7 L1411.7,888.9 L1413.5,888.4 L1415.4,888.1 L1417.3,888.3 L1419.3,888.8 L1421.3,889.6 L1423.2,890.4 L1425.1,891.0 L1426.5,891.4 L1427.9,891.7 L1429.2,892.0 L1430.5,892.1 L1431.9,892.0 L1433.7,891.4 L1435.5,890.4 L1437.3,889.1 L1439.1,887.7 L1440.7,886.1 L1442.3,884.2 L1443.8,882.0 L1445.1,879.7 L1446.4,877.2 L1447.5,874.5 L1448.7,871.0 L1449.8,867.1 L1450.7,863.1 L1451.5,859.0 L1452.4,855.0 L1453.3,851.2 L1454.1,847.5 L1454.9,843.7 L1455.6,839.8 L1456.3,835.6 L1457.0,829.9 L1457.6,823.8 L1458.2,817.4 L1458.7,811.0 L1459.3,804.8 L1459.9,798.9 L1460.5,793.1 L1461.1,787.2 L1461.7,781.4 L1462.3,775.6 L1462.8,769.8 L1463.3,764.0 L1463.8,758.1 L1464.3,752.3 L1464.8,746.5 L1465.3,740.6 L1465.9,734.6 L1466.5,728.6 L1467.0,722.9 L1467.4,717.6 L1467.7,713.7 L1467.9,710.1 L1468.0,706.6 L1468.2,703.2 L1468.4,700.0 L1468.6,697.5 L1468.7,695.1 L1468.9,692.8 L1469.0,690.5 L1469.2,688.0 L1469.4,684.8 L1469.6,681.3 L1469.8,677.8 L1470.0,674.3 L1470.2,671.0 L1470.4,668.2 L1470.7,665.5 L1470.9,662.9 L1471.2,660.4 L1471.6,658.0 L1472.0,655.8 L1472.5,653.5 L1472.9,651.4 L1473.4,649.8 L1473.9,649.2 L1474.4,649.8 L1474.8,651.4 L1475.3,653.5 L1475.7,655.8 L1476.0,658.0 L1476.3,660.4 L1476.5,662.9 L1476.6,665.5 L1476.7,668.2 L1476.9,671.0 L1477.1,674.3 L1477.4,677.8 L1477.6,681.3 L1477.9,684.8 L1478.1,688.0 L1478.3,690.5 L1478.4,692.8 L1478.6,695.1 L1478.7,697.5 L1478.9,700.0 L1479.1,703.2 L1479.3,706.6 L1479.5,710.1 L1479.7,713.7 L1479.9,717.6 L1480.2,722.9 L1480.6,728.6 L1480.9,734.6 L1481.3,740.6 L1481.6,746.5 L1481.9,752.3 L1482.2,758.1 L1482.5,764.0 L1482.8,769.8 L1483.1,775.6 L1483.4,781.4 L1483.7,787.3 L1484.0,793.1 L1484.3,799.0 L1484.6,804.8 L1484.9,810.6 L1485.2,816.5 L1485.5,822.3 L1485.9,828.2 L1486.2,834.0 L1486.5,840.0 L1486.9,846.1 L1487.2,852.1 L1487.6,857.9 L1487.9,863.2 L1488.1,866.8 L1488.4,870.0 L1488.6,873.1 L1488.8,876.3 L1489.1,880.0 L1489.5,886.0 L1489.9,892.6 L1490.4,899.7 L1490.9,906.8 L1491.4,913.7 L1492.0,920.4 L1492.6,927.2 L1493.3,933.9 L1494.1,940.7 L1494.8,947.4 L1495.6,954.2 L1496.4,960.9 L1497.2,967.7 L1498.1,974.4 L1499.0,981.2 L1499.9,988.0 L1500.7,994.9 L1501.6,1001.8 L1502.6,1008.5 L1503.7,1014.9 L1504.7,1020.2 L1505.8,1025.4 L1507.0,1030.4 L1508.2,1035.3 L1509.5,1040.2 L1510.8,1044.8 L1512.2,1049.3 L1513.6,1053.8 L1515.1,1058.0 L1516.7,1062.1 L1518.1,1065.4 L1519.5,1068.6 L1521.0,1071.7 L1522.6,1074.6 L1524.3,1077.3 L1525.8,1079.5 L1527.4,1081.7 L1529.1,1083.7 L1530.8,1085.6 L1532.7,1087.4 L1534.8,1089.3 L1537.1,1091.2 L1539.5,1093.0 L1542.0,1094.6 L1544.5,1095.8 L1547.1,1096.7 L1549.9,1097.3 L1552.6,1097.6 L1555.4,1097.8 L1558.0,1097.8 L1560.2,1097.7 L1562.3,1097.4 L1564.3,1097.0 L1566.3,1096.5 L1568.1,1095.8 L1569.6,1095.0 L1571.1,1094.2 L1572.4,1093.1 L1573.7,1092.0 L1574.9,1090.8 L1576.1,1089.3 L1577.1,1087.7 L1578.0,1085.9 L1579.0,1084.1 L1579.9,1082.3 L1580.9,1080.3 L1581.7,1078.1 L1582.7,1076.0 L1583.7,1074.0 L1585.0,1072.2 L1586.6,1070.6 L1588.5,1068.9 L1590.5,1067.6 L1592.4,1066.6 L1594.3,1066.3 L1595.9,1066.7 L1597.6,1067.7 L1599.2,1069.1 L1600.6,1070.7 L1601.9,1072.2 L1602.9,1073.7 L1603.8,1075.5 L1604.5,1077.2 L1605.3,1079.0 L1606.1,1080.6 L1606.9,1081.9 L1607.7,1083.2 L1608.5,1084.4 L1609.4,1085.5 L1610.3,1086.5 L1611.2,1087.3 L1612.2,1088.0 L1613.2,1088.5 L1614.2,1088.9 L1615.3,1089.1 L1616.6,1088.9 L1618.0,1088.4 L1619.5,1087.7 L1620.9,1086.7 L1622.1,1085.7 L1623.3,1084.4 L1624.4,1082.8 L1625.5,1081.1 L1626.4,1079.3 L1627.2,1077.3 L1628.1,1074.6 L1628.8,1071.7 L1629.4,1068.6 L1629.9,1065.4 L1630.5,1062.1 L1631.2,1058.0 L1631.9,1053.7 L1632.6,1049.3 L1633.2,1044.7 L1633.9,1040.2 L1634.6,1035.3 L1635.2,1030.2 L1635.9,1025.1 L1636.5,1020.0 L1637.3,1014.9 L1638.2,1009.8 L1639.1,1004.8 L1640.1,999.7 L1641.0,994.7 L1641.9,989.6 L1642.7,984.5 L1643.4,979.5 L1644.1,974.4 L1644.8,969.4 L1645.4,964.3 L1646.0,959.2 L1646.5,954.2 L1647.0,949.1 L1647.5,944.1 L1648.0,939.0 L1648.5,933.9 L1649.0,928.8 L1649.4,923.8 L1649.9,918.7 L1650.3,913.7 L1650.7,909.0 L1651.0,904.3 L1651.3,899.6 L1651.6,894.9 L1651.9,890.0 L1652.2,884.2 L1652.5,878.3 L1652.8,872.2 L1653.1,866.1 L1653.4,860.0 L1653.7,854.0 L1654.0,848.0 L1654.4,842.0 L1654.7,836.0 L1655.0,830.0 L1655.3,824.0 L1655.6,818.0 L1655.9,812.0 L1656.2,806.0 L1656.5,800.0 L1656.8,793.9 L1657.1,787.8 L1657.3,781.6 L1657.6,775.7 L1658.0,770.0 L1658.4,765.5 L1658.8,761.1 L1659.2,756.9 L1659.6,752.7 L1659.9,748.4 L1660.2,743.6 L1660.4,738.7 L1660.6,733.8 L1660.8,729.1 L1661.1,725.0 L1661.3,722.5 L1661.5,720.1 L1661.7,718.0 L1662.0,715.9 L1662.3,714.0 L1662.6,712.4 L1662.9,710.8 L1663.3,709.3 L1663.6,708.2 L1664.0,707.8 L1664.4,708.2 L1664.7,709.3 L1665.1,710.8 L1665.4,712.4 L1665.7,714.0 L1666.0,715.9 L1666.3,718.0 L1666.5,720.1 L1666.7,722.5 L1666.9,725.0 L1667.2,729.1 L1667.4,733.8 L1667.6,738.7 L1667.8,743.6 L1668.0,748.4 L1668.2,752.7 L1668.4,756.9 L1668.6,761.1 L1668.8,765.5 L1669.0,770.0 L1669.3,775.7 L1669.5,781.6 L1669.8,787.8 L1670.0,793.9 L1670.3,800.0 L1670.5,806.0 L1670.8,812.0 L1671.0,818.0 L1671.3,824.0 L1671.5,830.0 L1671.8,836.0 L1672.0,842.0 L1672.3,848.0 L1672.5,854.0 L1672.8,860.0 L1673.0,865.9 L1673.3,871.8 L1673.5,877.7 L1673.7,883.7 L1674.0,890.0 L1674.4,897.8 L1674.8,906.1 L1675.2,914.5 L1675.7,922.8 L1676.2,930.6 L1676.6,936.8 L1677.1,942.8 L1677.6,948.6 L1678.1,954.3 L1678.6,960.0 L1679.1,965.4 L1679.6,970.6 L1680.2,975.9 L1680.8,981.1 L1681.4,986.3 L1682.1,991.6 L1682.7,997.0 L1683.5,1002.3 L1684.2,1007.5 L1685.0,1012.6 L1685.7,1017.0 L1686.4,1021.4 L1687.1,1025.7 L1687.9,1029.8 L1688.9,1033.7 L1689.8,1036.9 L1690.8,1039.9 L1691.8,1042.8 L1692.9,1045.6 L1694.2,1048.2 L1695.4,1050.3 L1696.6,1052.2 L1697.9,1054.0 L1699.3,1055.8 L1700.8,1057.4 L1702.3,1058.9 L1703.9,1060.3 L1705.5,1061.6 L1707.1,1062.8 L1708.7,1063.9 L1710.0,1064.7 L1711.3,1065.5 L1712.6,1066.1 L1714.0,1066.7 L1715.3,1067.2 L1716.6,1067.7 L1717.9,1068.1 L1719.3,1068.5 L1720.6,1068.7 L1721.8,1068.6 L1723.0,1068.3 L1724.1,1067.8 L1725.2,1067.1 L1726.2,1066.2 L1727.1,1065.3 L1728.1,1064.0 L1728.9,1062.4 L1729.7,1060.7 L1730.4,1059.0 L1731.1,1057.4 L1731.7,1056.0 L1732.3,1054.6 L1732.9,1053.2 L1733.5,1051.9 L1734.3,1050.8 L1735.1,1050.0 L1736.0,1049.2 L1736.9,1048.6 L1737.9,1048.0 L1738.9,1047.5 L1740.1,1047.1 L1741.4,1046.8 L1742.8,1046.7 L1744.2,1046.5 L1745.5,1046.2 L1746.8,1045.8 L1748.1,1045.3 L1749.5,1044.7 L1750.8,1044.4 L1752.1,1044.2 L1753.4,1044.4 L1754.8,1044.7 L1756.1,1045.2 L1757.4,1045.8 L1758.7,1046.2 L1759.8,1046.6 L1760.9,1047.0 L1761.9,1047.3 L1762.9,1047.5 L1763.9,1047.5 L1764.8,1047.1 L1765.6,1046.5 L1766.4,1045.8 L1767.1,1045.0 L1767.9,1044.2 L1768.7,1043.3 L1769.5,1042.3 L1770.3,1041.3 L1771.0,1040.6 L1771.8,1040.3 L1772.6,1040.7 L1773.5,1041.6 L1774.3,1042.8 L1775.1,1044.2 L1775.8,1045.5 L1776.4,1047.0 L1776.9,1048.6 L1777.3,1050.2 L1777.7,1051.9 L1778.4,1053.4 L1779.3,1054.8 L1780.3,1056.2 L1781.4,1057.5 L1782.5,1058.8 L1783.7,1060.0 L1784.9,1061.1 L1786.2,1062.2 L1787.6,1063.2 L1789.0,1064.3 L1790.3,1065.3 L1791.6,1066.3 L1793.0,1067.3 L1794.3,1068.3 L1795.6,1069.4 L1796.8,1070.5 L1798.0,1071.7 L1799.1,1073.0 L1800.2,1074.3 L1801.2,1075.6 L1802.1,1077.1 L1803.0,1078.9 L1803.7,1080.8 L1804.4,1082.8 L1805.2,1084.6 L1806.1,1086.3 L1807.0,1087.6 L1808.0,1088.8 L1809.0,1089.9 L1810.1,1090.8 L1811.3,1091.6 L1812.5,1092.1 L1813.9,1092.3 L1815.3,1092.5 L1816.7,1092.7 L1817.9,1093.1 L1818.9,1093.7 L1819.8,1094.5 L1820.7,1095.4 L1821.6,1096.2 L1822.5,1096.8 L1823.3,1097.2 L1824.0,1097.6 L1824.8,1097.9 L1825.6,1098.1 L1826.5,1098.3 L1828.4,1098.5 L1830.9,1098.6 L1833.3,1098.6 L1835.2,1098.5 L1836.0,1098.5 L1836.0,1098.5 L1836.0,1098.5 L1836.0,1098.5 L1836.0,1098.5 L1836.0,1098.5"/>
</g>
<g stroke="#000" fill="none">
<path stroke-width="6" stroke-linecap="round" d="M163,1336 V27 H1909 V1336" stroke-linejoin="miter"/>
<path stroke-width="5" d="M163,1312.5 H1020.7 M1051.2,1312.5 H1909"/>
<path stroke-width="5" stroke-linecap="round" d="M220.5,1312.5 V1324.5 M277.5,1312.5 V1324.5 M334.5,1312.5 V1324.5 M391.5,1312.5 V1324.5 M448.5,1312.5 V1336.2 M506.5,1312.5 V1324.5 M563.5,1312.5 V1324.5 M620.5,1312.5 V1324.5 M677.5,1312.5 V1324.5 M734.5,1312.5 V1336.2 M791.5,1312.5 V1324.5 M849.5,1312.5 V1324.5 M906.5,1312.5 V1324.5 M963.5,1312.5 V1324.5 M1051.5,1312.5 V1336.2 M1136.5,1312.5 V1324.5 M1222.5,1312.5 V1324.5 M1308.5,1312.5 V1324.5 M1394.5,1312.5 V1324.5 M1565.5,1312.5 V1324.5 M1651.5,1312.5 V1324.5 M1737.5,1312.5 V1324.5 M1823.5,1312.5 V1324.5 M1480.5,1312.5 V1336.2"/>
<path stroke-width="5.4" stroke-linecap="round" d="M1005.3,1336.4 L1036.2,1288.1 M1035.8,1336.4 L1066.6,1288.1"/>
<rect x="218.5" y="68.5" width="379" height="183" stroke-width="3"/>
<path stroke="#f00" stroke-width="10" stroke-linecap="round" d="M223.2,114 H397.1"/>
<path stroke="#00f" stroke-width="10" stroke-linecap="round" d="M223.2,208.9 H397.1"/>
</g>
<g>
<text transform="translate(412.91,138.10) scale(0.9739,1)" font-size="68.00">FPS</text>
<text transform="translate(412.86,232.80) scale(1.0003,1)" font-size="68.00">PDMS</text>
<text transform="translate(1206.80,146.87) scale(1.0248,1)" font-size="102.80">ν</text>
<text transform="translate(1256.50,180.11) scale(0.9765,1)" font-size="58.96">C-F</text>
<text transform="translate(1499.61,213.01) scale(1.0554,1)" font-size="99.16">ω</text>
<text transform="translate(1563.27,246.21) scale(1.0717,1)" font-size="58.96">CH</text>
<text transform="translate(1648.94,246.40) scale(0.9936,1)" font-size="41.52">2</text>
<text transform="translate(1621.80,313.67) scale(1.0294,1)" font-size="102.80">ν</text>
<text transform="translate(1669.79,346.61) scale(0.9930,1)" font-size="58.96">Si-C</text>
<text transform="translate(904.70,385.77) scale(1.0338,1)" font-size="102.58">ν</text>
<text transform="translate(954.80,419.01) scale(0.9797,1)" font-size="58.66">CF</text>
<text transform="translate(1024.27,419.10) scale(0.9743,1)" font-size="39.55">3</text>
<text transform="translate(1075.84,399.91) scale(1.0507,1)" font-size="98.95">ω</text>
<text transform="translate(1138.37,432.21) scale(1.0662,1)" font-size="59.40">CH</text>
<text transform="translate(1224.62,432.40) scale(0.9691,1)" font-size="40.76">2</text>
<text transform="translate(1365.90,575.78) scale(1.0314,1)" font-size="102.37">ν</text>
<text transform="translate(1415.84,608.50) scale(0.9786,1)" font-size="60.00">asSi-O</text>
<text transform="translate(1623.00,631.07) scale(1.0183,1)" font-size="103.23">ν</text>
<text transform="translate(1671.97,663.40) scale(0.9711,1)" font-size="60.00">sSi-O</text>
<text transform="translate(1197.50,734.02) scale(1.0719,1)" font-size="98.01">δ</text>
<text transform="translate(1243.27,766.01) scale(1.0649,1)" font-size="59.40">CH</text>
<text transform="translate(1329.00,766.10) scale(0.9963,1)" font-size="40.15">3</text>
<text transform="translate(563.20,768.08) scale(1.0337,1)" font-size="102.37">ν</text>
<text transform="translate(611.59,800.80) scale(1.0593,1)" font-size="59.70">asCH</text>
<text transform="translate(749.42,801.01) scale(1.0066,1)" font-size="39.25">3</text>
<text transform="translate(750.00,789.27) scale(1.0251,1)" font-size="103.23">ν</text>
<text transform="translate(798.47,820.81) scale(1.0662,1)" font-size="59.40">sCH</text>
<text transform="translate(908.37,821.01) scale(0.9931,1)" font-size="38.81">3</text>
<text transform="translate(1044.70,833.12) scale(1.0735,1)" font-size="97.87">δ</text>
<text transform="translate(1090.26,866.79) scale(1.0464,1)" font-size="60.60">CH</text>
<text transform="translate(1175.90,866.89) scale(0.9817,1)" font-size="40.75">3</text>
<text transform="translate(1501.22,923.49) scale(1.0730,1)" font-size="97.21">ρ</text>
<text transform="translate(1553.27,955.81) scale(1.0703,1)" font-size="59.10">CH</text>
<text transform="translate(1638.82,955.91) scale(1.0066,1)" font-size="39.25">3</text>
</g>
<g>
<text x="163" y="1401.3" font-size="70" text-anchor="middle">4000</text>
<text x="448.8" y="1401.3" font-size="70" text-anchor="middle">3500</text>
<text x="734.7" y="1401.3" font-size="70" text-anchor="middle">3000</text>
<text x="1051" y="1401.3" font-size="70" text-anchor="middle">1500</text>
<text x="1480" y="1401.3" font-size="70" text-anchor="middle">1000</text>
<text x="1909" y="1401.3" font-size="70" text-anchor="middle">500</text>
</g>
<g>
<text transform="translate(734.10,1506.30) scale(1.0701,1)" font-size="67.50">Wave</text>
<text transform="translate(909.59,1506.30) scale(1.0699,1)" font-size="67.50">number</text>
<text transform="translate(1153.65,1506.60) scale(1.0028,1)" font-size="67.50">(cm</text>
<text transform="translate(1257.83,1478.00) scale(1.0860,1)" font-size="40.00">−</text>
<text transform="translate(1278.31,1475.20) scale(0.9465,1)" font-size="39.85">1</text>
<text transform="translate(1300.59,1506.60) scale(0.8946,1)" font-size="67.50">)</text>
<text transform="translate(75.3,859.8) rotate(-90) scale(1.0749,1)" x="-0.71" y="0" font-size="71">Absorbance</text>
</g>
<g>
<line x1="1095.3" y1="481.2" x2="1038.4" y2="441.6" stroke="#000" stroke-width="3.0"/><polygon points="1013.0,423.9 1044.3,435.0 1034.3,449.4" fill="#000"/>
<line x1="1159.0" y1="460.5" x2="1155.2" y2="453.5" stroke="#000" stroke-width="3.0"/><polygon points="1140.3,426.3 1163.3,450.2 1148.0,458.6" fill="#000"/>
<line x1="1209.3" y1="464.1" x2="1202.6" y2="458.4" stroke="#000" stroke-width="3.0"/><polygon points="1179.1,438.2 1209.1,452.4 1197.7,465.7" fill="#000"/>
<line x1="1428.8" y1="162.4" x2="1371.0" y2="162.4" stroke="#000" stroke-width="3.0"/><polygon points="1340.0,162.4 1372.0,153.7 1372.0,171.2" fill="#000"/>
<line x1="1302.5" y1="249.7" x2="1302.5" y2="232.8" stroke="#000" stroke-width="3.0"/><polygon points="1302.5,201.8 1311.2,233.8 1293.8,233.8" fill="#000"/>
<line x1="1569.2" y1="404.3" x2="1557.9" y2="261.7" stroke="#000" stroke-width="3.0"/><polygon points="1555.4,230.8 1566.7,262.0 1549.2,263.4" fill="#000"/>
<line x1="1620.0" y1="446.4" x2="1634.0" y2="372.7" stroke="#000" stroke-width="3.0"/><polygon points="1639.8,342.2 1642.4,375.3 1625.2,372.0" fill="#000"/>
<line x1="1683.7" y1="392.0" x2="1681.6" y2="385.8" stroke="#000" stroke-width="3.0"/><polygon points="1671.7,356.4 1690.2,383.9 1673.6,389.5" fill="#000"/>
<line x1="1253.5" y1="354.5" x2="1253.7" y2="658.0" stroke="#000" stroke-width="3.0"/><polygon points="1253.7,689.0 1244.9,657.0 1262.4,657.0" fill="#000"/>
<line x1="1258.2" y1="852.2" x2="1253.9" y2="793.0" stroke="#000" stroke-width="3.0"/><polygon points="1251.7,762.1 1262.7,793.4 1245.3,794.6" fill="#000"/>
<line x1="1472.3" y1="226.0" x2="1465.2" y2="524.8" stroke="#000" stroke-width="3.0"/><polygon points="1464.5,555.8 1456.5,523.6 1474.0,524.0" fill="#000"/>
<line x1="1473.8" y1="645.7" x2="1472.0" y2="638.5" stroke="#000" stroke-width="3.0"/><polygon points="1464.6,608.4 1480.8,637.4 1463.8,641.6" fill="#000"/>
<line x1="1653.2" y1="426.0" x2="1653.0" y2="543.8" stroke="#000" stroke-width="3.0"/><polygon points="1652.9,574.8 1644.2,542.8 1661.7,542.8" fill="#000"/>
<line x1="1666.4" y1="711.5" x2="1666.4" y2="681.0" stroke="#000" stroke-width="3.0"/><polygon points="1666.4,650.0 1675.2,682.0 1657.7,682.0" fill="#000"/>
<line x1="753.4" y1="480.7" x2="725.9" y2="705.9" stroke="#000" stroke-width="3.0"/><polygon points="722.1,736.7 717.3,703.9 734.7,706.0" fill="#000"/>
<line x1="785.4" y1="493.8" x2="790.6" y2="707.7" stroke="#000" stroke-width="3.0"/><polygon points="791.3,738.7 781.8,706.9 799.3,706.5" fill="#000"/>
<line x1="755.8" y1="959.7" x2="731.8" y2="839.3" stroke="#000" stroke-width="3.0"/><polygon points="725.7,808.9 740.5,838.6 723.4,842.0" fill="#000"/>
<line x1="789.7" y1="1069.6" x2="789.5" y2="836.1" stroke="#000" stroke-width="3.0"/><polygon points="789.5,805.1 798.3,837.1 780.8,837.1" fill="#000"/>
<line x1="1129.9" y1="1074.5" x2="1109.9" y2="908.7" stroke="#000" stroke-width="3.0"/><polygon points="1106.2,877.9 1118.7,908.6 1101.3,910.7" fill="#000"/>
<line x1="1594.3" y1="1066.3" x2="1582.2" y2="971.7" stroke="#000" stroke-width="3.0"/><polygon points="1578.2,941.0 1591.0,971.6 1573.6,973.9" fill="#000"/>
</g>
</svg></body></html>
